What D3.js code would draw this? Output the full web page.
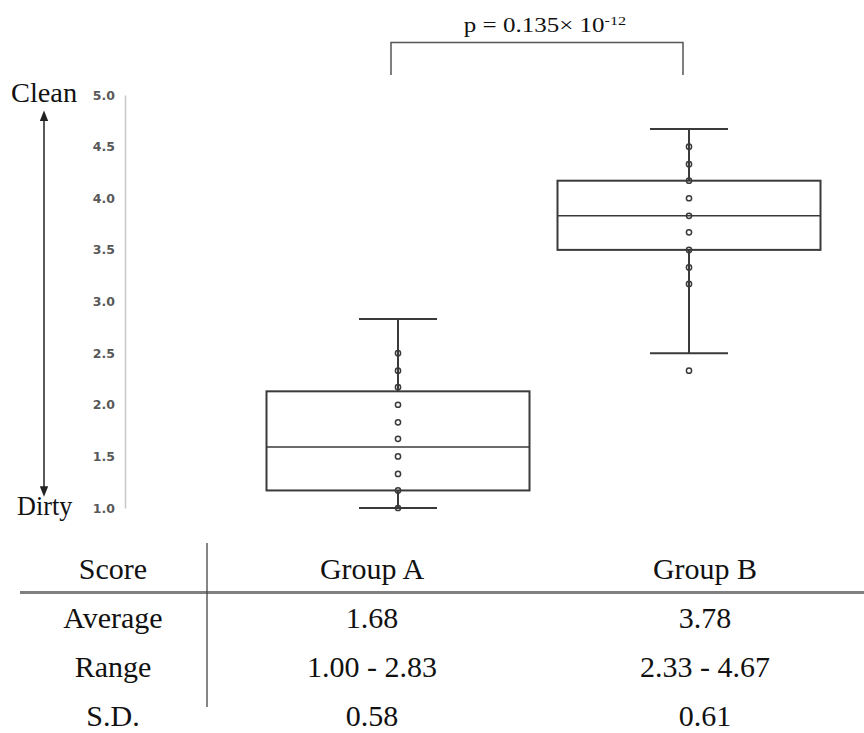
<!DOCTYPE html>
<html><head><meta charset="utf-8">
<script src="https://cdn.jsdelivr.net/npm/d3@7"></script>
<style>body{margin:0;background:#fff}svg{display:block}</style>
</head><body>
<svg id="c" width="864" height="733"></svg>
<script>
const groups = ["Group A", "Group B"];
const whiskerLow = [1.0, 2.5];
const q1 = [1.17, 3.5];
const median = [1.59, 3.83];
const q3 = [2.13, 4.17];
const whiskerHigh = [2.83, 4.67];
const pointsA = [1.0, 1.17, 1.33, 1.5, 1.67, 1.83, 2.0, 2.17, 2.33, 2.5];
const pointsB = [2.33, 3.17, 3.33, 3.5, 3.67, 3.83, 4.0, 4.17, 4.33, 4.5];
const yTicks = [1.0, 1.5, 2.0, 2.5, 3.0, 3.5, 4.0, 4.5, 5.0];
const pText = "p = 0.135\u00d7 10";
const pExp = "-12";
const tableHeader = ["Score", "Group A", "Group B"];
const rowLabels = ["Average", "Range", "S.D."];
const colA = ["1.68", "1.00 - 2.83", "0.58"];
const colB = ["3.78", "2.33 - 4.67", "0.61"];

const svg = d3.select("#c");
const ink = "#3a3a3a";
const y = d3.scaleLinear().domain([1, 5]).range([508, 95]);
const x = d3.scalePoint().domain(groups).range([398, 689]);
const boxHalf = 131.5, capHalf = 39;
const serif = "'Liberation Serif', 'Times New Roman', 'DejaVu Serif', serif";

function stext(parent, tx, ty, sx, size, anchor, str) {
  return parent.append("text")
    .attr("transform", `translate(${tx},${ty}) scale(${sx},1)`)
    .attr("text-anchor", anchor)
    .style("font-family", serif).style("font-size", size + "px")
    .attr("fill", "#111").text(str);
}

// y axis
const ax = svg.append("g").attr("transform", "translate(125,0)")
  .call(d3.axisLeft(y).tickValues(yTicks).tickFormat(d3.format(".1f")).tickSize(0).tickPadding(10));
ax.select(".domain").attr("stroke", "#c8c8c8").attr("stroke-width", 1.5);
ax.selectAll("text").attr("fill", "#595959").style("font-family", "'DejaVu Sans', Verdana, sans-serif")
  .style("font-size", "12.5px").style("font-weight", "bold");

// Clean / Dirty arrow
svg.append("defs").html('<marker id="ah" viewBox="0 0 10 10" refX="5" refY="5" markerWidth="7" markerHeight="9" orient="auto-start-reverse"><path d="M0,1 L10,5 L0,9 z" fill="#222"/></marker>');
svg.append("line").attr("x1", 44).attr("x2", 44).attr("y1", y(4.8)).attr("y2", y(1.16))
  .attr("stroke", "#222").attr("stroke-width", 1.5)
  .attr("marker-start", "url(#ah)").attr("marker-end", "url(#ah)");
stext(svg, 11, y(5) + 7, 1.05, 27, "start", "Clean");
stext(svg, 17, y(1) + 7, 0.97, 27, "start", "Dirty");

// boxes
const boxes = groups.map((g, i) => ({g, lo: whiskerLow[i], q1: q1[i], med: median[i], q3: q3[i], hi: whiskerHigh[i]}));
const bg = svg.append("g").attr("stroke", ink).attr("stroke-width", 2).attr("fill", "none");
boxes.forEach(b => {
  const cx = x(b.g);
  bg.append("line").attr("x1", cx).attr("x2", cx).attr("y1", y(b.hi)).attr("y2", y(b.q3));
  bg.append("line").attr("x1", cx).attr("x2", cx).attr("y1", y(b.q1)).attr("y2", y(b.lo));
  bg.append("line").attr("x1", cx - capHalf).attr("x2", cx + capHalf).attr("y1", y(b.hi)).attr("y2", y(b.hi));
  bg.append("line").attr("x1", cx - capHalf).attr("x2", cx + capHalf).attr("y1", y(b.lo)).attr("y2", y(b.lo));
  bg.append("rect").attr("x", cx - boxHalf).attr("width", 2 * boxHalf).attr("y", y(b.q3)).attr("height", y(b.q1) - y(b.q3));
  bg.append("line").attr("x1", cx - boxHalf).attr("x2", cx + boxHalf).attr("y1", y(b.med)).attr("y2", y(b.med)).attr("stroke-width", 1.5);
});

// points
const pts = pointsA.map(v => ({g: groups[0], v})).concat(pointsB.map(v => ({g: groups[1], v})));
svg.append("g").selectAll("circle").data(pts).join("circle")
  .attr("cx", d => x(d.g)).attr("cy", d => y(d.v)).attr("r", 2.6)
  .attr("fill", "none").attr("stroke", ink).attr("stroke-width", 1.5);

// bracket
const bx1 = x(groups[0]) - 7, bx2 = x(groups[1]) - 6;
svg.append("path").attr("d", `M${bx1},75 V42.5 H${bx2} V75`).attr("fill", "none").attr("stroke", "#555").attr("stroke-width", 1.5);
const pt = stext(svg, (bx1 + bx2) / 2 + 8, 32, 1.25, 20, "middle", null);
pt.append("tspan").text(pText);
pt.append("tspan").attr("dy", -7).style("font-size", "13px").text(pExp);

// table
const colX = [113, 372, 705];
const rowY = [579, 628, 677, 726];
tableHeader.forEach((t, c) => stext(svg, colX[c], rowY[0], 1, 30, "middle", t));
rowLabels.forEach((lab, r) => {
  [lab, colA[r], colB[r]].forEach((t, c) => stext(svg, colX[c], rowY[r + 1], 1, 30, "middle", t));
});
svg.append("line").attr("x1", 20).attr("x2", 864).attr("y1", 592.5).attr("y2", 592.5).attr("stroke", "#808080").attr("stroke-width", 3);
svg.append("line").attr("x1", 207).attr("x2", 207).attr("y1", 543).attr("y2", 707).attr("stroke", "#444").attr("stroke-width", 1.3);
</script>
</body></html>
